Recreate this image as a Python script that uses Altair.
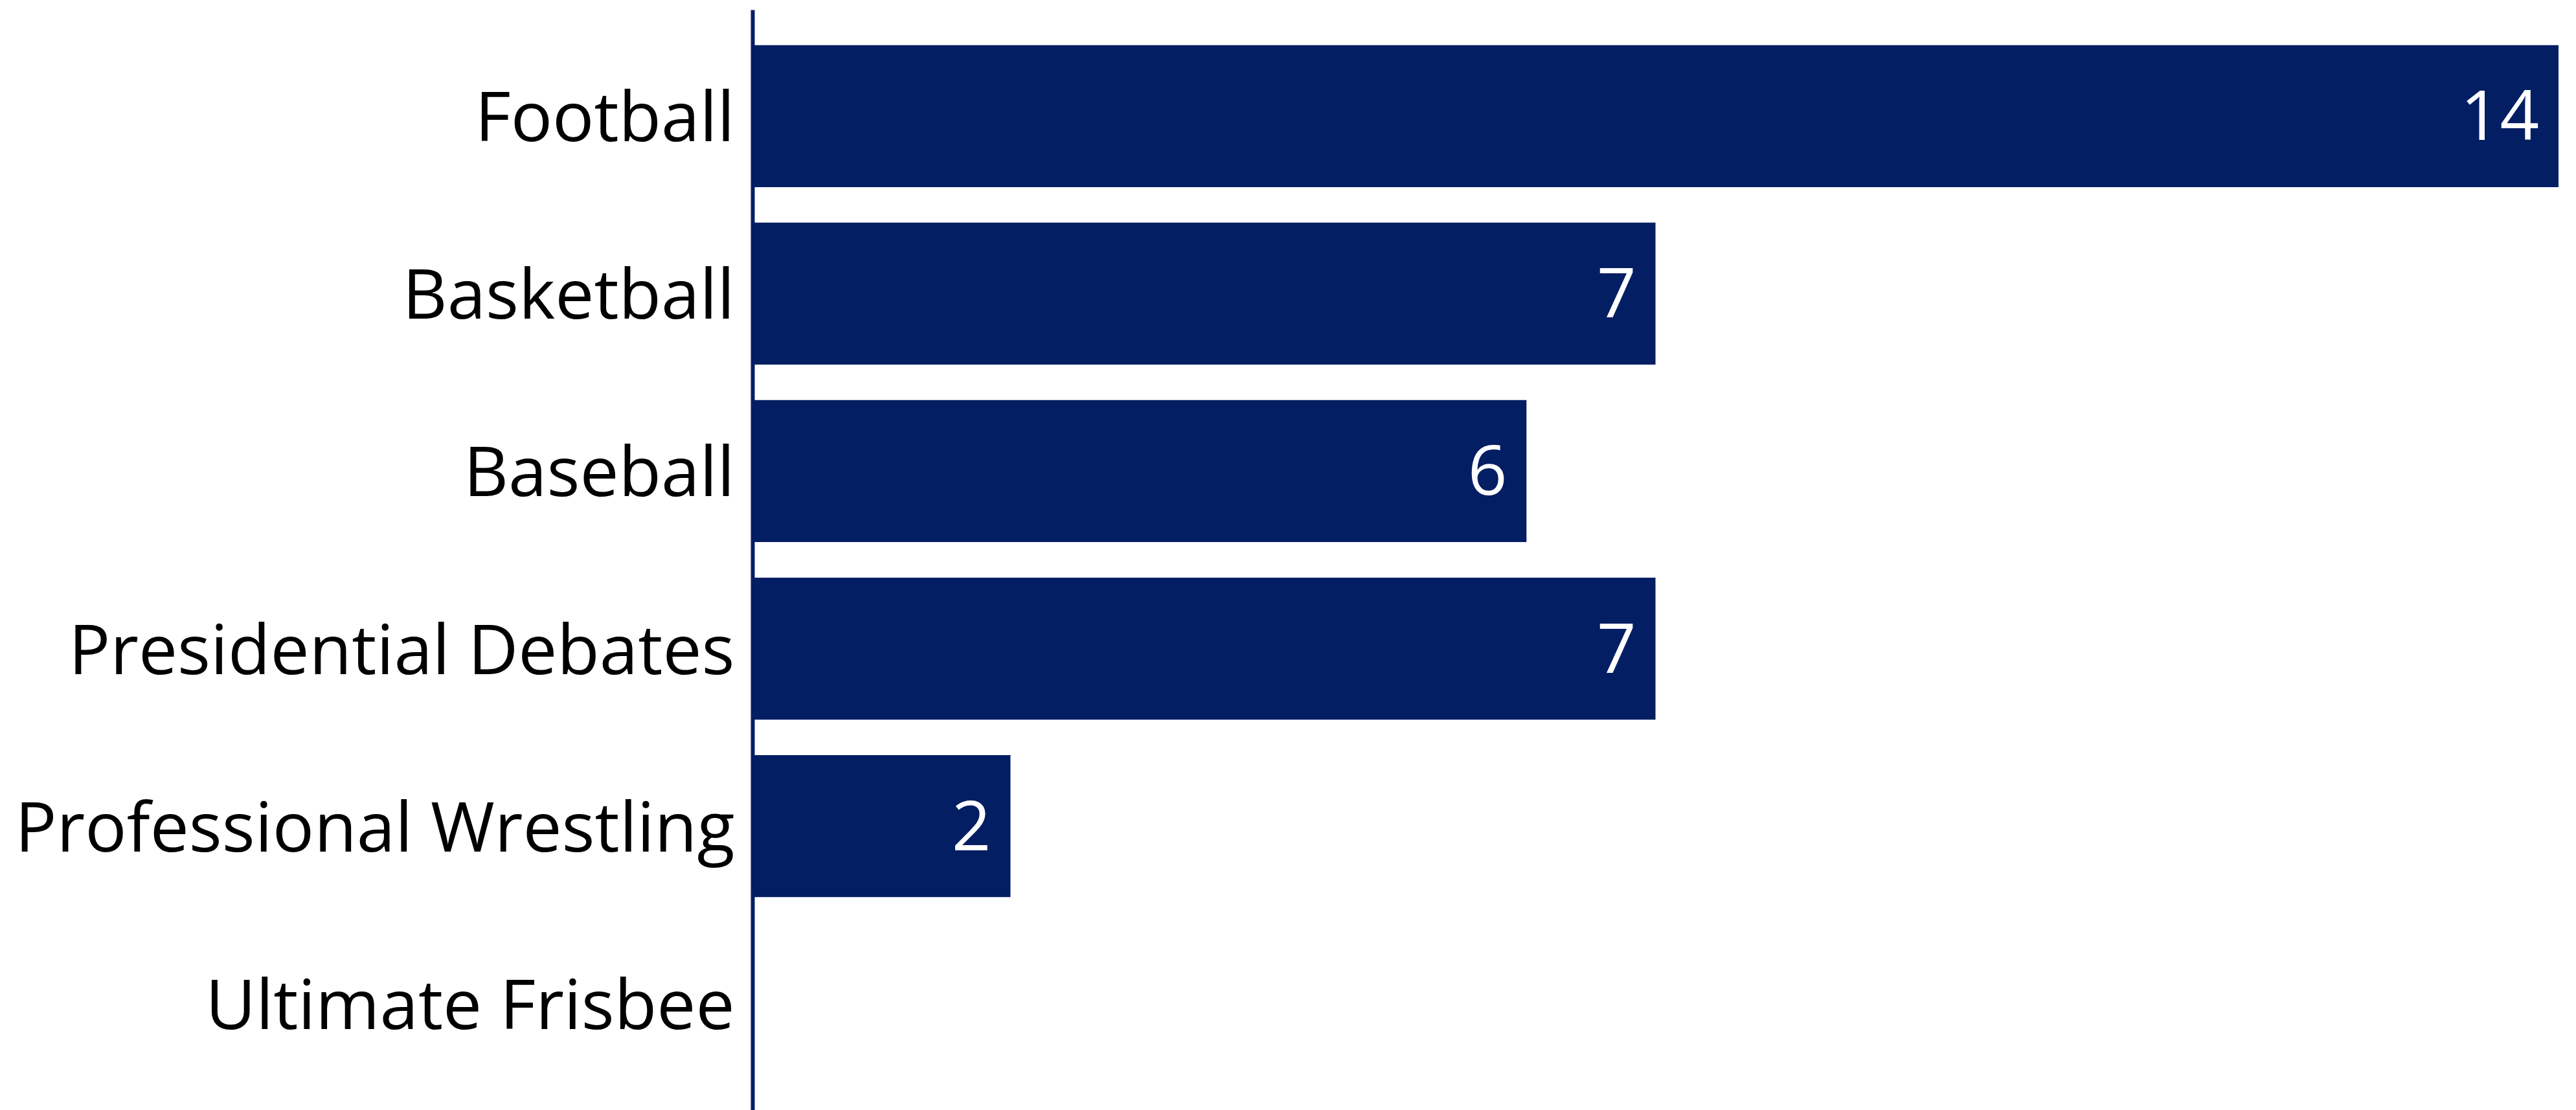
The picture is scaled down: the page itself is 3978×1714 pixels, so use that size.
import altair as alt
import pandas as pd

categories = ["Football", "Basketball", "Baseball", "Presidential Debates",
              "Professional Wrestling", "Ultimate Frisbee"]
values = [14, 7, 6, 7, 2, 0]

df = pd.DataFrame({"category": categories, "value": values})

NAVY = "#031e63"
FONT = "Open Sans"

y_enc = alt.Y("category:N", sort=categories, title=None,
              scale=alt.Scale(paddingInner=0.2, paddingOuter=0.2),
              axis=alt.Axis(ticks=False, labelFontSize=107, labelFont=FONT,
                            labelColor="#000000", labelPadding=28, labelLimit=2000,
                            labelOffset=7,
                            domainColor=NAVY, domainWidth=6, grid=False))
x_enc = alt.X("value:Q", title=None, axis=None,
              scale=alt.Scale(domain=[0, 14], nice=False, zero=True))

bars = alt.Chart(df).mark_bar(color=NAVY).encode(x=x_enc, y=y_enc)
text = alt.Chart(df).transform_filter("datum.value > 0").mark_text(
    align="right", baseline="middle", dx=-30, dy=5, color="white",
    fontSize=106, font=FONT).encode(x=x_enc, y=y_enc, text="value:Q")

chart = (bars + text).properties(
    width=2789, height=1699,
    autosize=alt.AutoSizeParams(type="none"),
    padding={"left": 1154, "top": 7, "right": 19, "bottom": 0},
).configure_view(stroke=None)

chart.save("out.html", embed_options={"renderer": "svg", "actions": False})
